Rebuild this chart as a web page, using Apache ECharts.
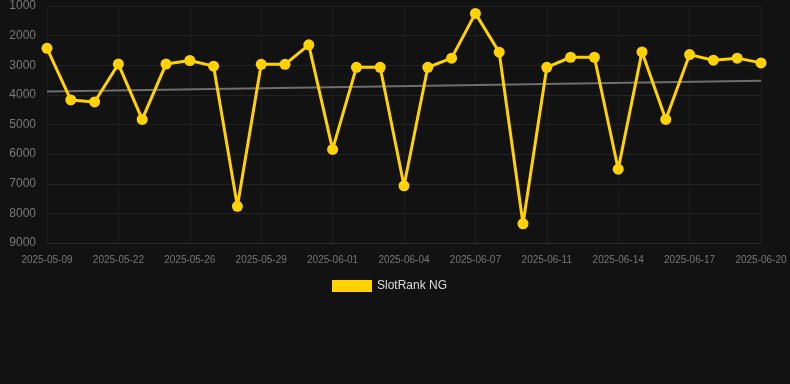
<!DOCTYPE html>
<html>
<head>
<meta charset="utf-8">
<script src="https://cdn.jsdelivr.net/npm/echarts@6/dist/echarts.min.js"></script>
<style>
    html, body {margin: 0; padding: 0; background: #121212;}
    #chart {width: 790px; height: 384px;}
</style>
</head>
<body>
<div id="chart"></div>
<script>
// dates on the x axis (only every third one is labelled)
const dates = [
    '2025-05-09', '2025-05-15', '2025-05-20', '2025-05-22', '2025-05-23', '2025-05-24',
    '2025-05-26', '2025-05-27', '2025-05-28', '2025-05-29', '2025-05-30', '2025-05-31',
    '2025-06-01', '2025-06-02', '2025-06-03', '2025-06-04', '2025-06-05', '2025-06-06',
    '2025-06-07', '2025-06-08', '2025-06-10', '2025-06-11', '2025-06-12', '2025-06-13',
    '2025-06-14', '2025-06-15', '2025-06-16', '2025-06-17', '2025-06-18', '2025-06-19',
    '2025-06-20'
];
// rank per day
const rankValues = [
    2430, 4170, 4240, 2960, 4830, 2960, 2840, 3030, 7760, 2970, 2970,
    2310, 5840, 3070, 3070, 7070, 3070, 2760, 1250, 2560, 8350, 3070,
    2730, 2730, 6510, 2550, 4830, 2640, 2830, 2760, 2920
];
const trendStart = 3890;
const trendEnd = 3520;
const yTicks = {min: 1000, max: 9000, step: 1000};

const trendValues = dates.map((d, i) => {
    if (i === 0) return trendStart;
    if (i === dates.length - 1) return trendEnd;
    return null;
});

const chart = echarts.init(document.getElementById('chart'));
chart.setOption({
    backgroundColor: '#121212',
    animation: false,
    grid: {left: 47, right: 29, top: 6, bottom: 141},
    legend: {
        bottom: 87,
        left: 327,
        itemWidth: 40,
        itemHeight: 12,
        itemGap: 10,
        icon: 'rect',
        data: ['SlotRank NG'],
        textStyle: {color: '#dddddd', fontSize: 12, fontFamily: 'Liberation Sans, Arial, sans-serif'}
    },
    xAxis: {
        type: 'category',
        boundaryGap: false,
        data: dates,
        axisLine: {lineStyle: {color: '#2a2a2a'}},
        axisTick: {show: false},
        axisLabel: {
            interval: 2,
            color: '#777777',
            fontSize: 10,
            margin: 12,
            fontFamily: 'Liberation Sans, Arial, sans-serif'
        },
        splitLine: {show: true, interval: 2, lineStyle: {color: '#1c1c1c'}}
    },
    yAxis: {
        type: 'value',
        inverse: true,
        min: yTicks.min,
        max: yTicks.max,
        interval: yTicks.step,
        axisLine: {show: false},
        axisTick: {show: false},
        axisLabel: {
            color: '#7a7a7a',
            fontSize: 12,
            margin: 11,
            formatter: v => String(v),
            fontFamily: 'Liberation Sans, Arial, sans-serif'
        },
        splitLine: {lineStyle: {color: '#222222'}}
    },
    series: [
        {
            name: 'SlotRank NG',
            type: 'line',
            data: rankValues,
            color: '#ffd200',
            lineStyle: {width: 3, color: '#ffd200'},
            symbol: 'circle',
            symbolSize: 11,
            itemStyle: {color: '#ffd200'},
            z: 3
        },
        {
            name: 'trend',
            type: 'line',
            data: trendValues,
            connectNulls: true,
            symbol: 'none',
            lineStyle: {width: 2, color: '#6e6e6e'},
            z: 2
        }
    ]
});
</script>
</body>
</html>
